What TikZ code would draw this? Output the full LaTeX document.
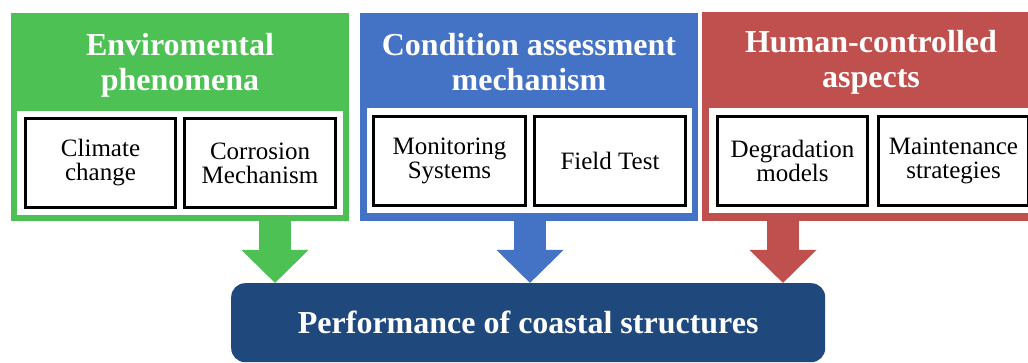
\documentclass[tikz,border=0pt]{standalone}
\usepackage{fontspec}
\setmainfont{Liberation Serif}
\usetikzlibrary{arrows.meta}
\definecolor{cgreen}{RGB}{77,193,83}
\definecolor{cblue}{RGB}{68,114,196}
\definecolor{cred}{RGB}{192,80,77}
\definecolor{cnavy}{RGB}{31,73,125}
\begin{document}
\begin{tikzpicture}[x=1pt,y=-1pt,
  outerbox/.style={fill=#1, inner sep=0pt, anchor=north west, minimum width=338pt, minimum height=208pt},
  panel/.style={fill=white, inner sep=0pt, anchor=north west, minimum width=325pt, minimum height=105pt},
  itembox/.style={draw=black, line width=2.5pt, fill=white, inner sep=0pt, minimum width=150pt, minimum height=89pt, align=center, font=\fontsize{25}{24}\selectfont},
  title/.style={text=white, align=center, font=\fontsize{32}{35}\selectfont\bfseries},
  fatarrow/.style={draw=#1, line width=32pt, -{Triangle[length=33pt,width=65pt]}}
]
\clip (0,0) rectangle (1028,363);
\fill[white] (0,0) rectangle (1028,363);

% outer coloured boxes
\node[outerbox=cgreen] (gbox) at (11,13) {};
\node[outerbox=cblue] (bbox) at (360,13) {};
\node[outerbox=cred, minimum height=209pt] (rbox) at (702,12) {};

% white panels
\node[panel, minimum width=326pt, minimum height=104pt] (gpanel) at (17,111) {};
\node[panel] (bpanel) at (367,108) {};
\node[panel, minimum width=324pt] (rpanel) at (709,108) {};

% titles
\node[title] (gtitle) at (180,65) {Enviromental\\phenomena};
\node[title] (btitle) at (529,62) {Condition assessment\\mechanism};
\node[title] (rtitle) at (871,62) {Human-controlled\\aspects};

% item boxes
\node[itembox] (climate) at (100.5,163) {Climate\\change};
\node[itembox, minimum width=151pt] (corrosion) at (260,163) {Corrosion\\Mechanism};
\node[itembox, minimum width=152pt] (monitor) at (449.5,161) {Monitoring\\Systems};
\node[itembox, minimum width=151pt] (field) at (610,161) {Field Test};
\node[itembox, minimum width=150pt] (degrad) at (792.5,161) {Degradation\\models};
\node[itembox, minimum width=150pt] (maint) at (953.5,161) {Maintenance\\strategies};

% bottom box
\node[fill=cnavy, rounded corners=14pt, inner sep=0pt, anchor=north west, minimum width=594pt, minimum height=79pt] (perf) at (231,283) {};
\node[text=white, font=\fontsize{32}{35}\selectfont\bfseries] (perftext) at (perf.center) {Performance of coastal structures};

% arrows
\coordinate (gx) at (275,0);
\coordinate (bx) at (530,0);
\coordinate (rx) at (783,0);
\draw[fatarrow=cgreen] (gx |- gbox.south) -- (gx |- perf.north);
\draw[fatarrow=cblue] (bx |- bbox.south) -- (bx |- perf.north);
\draw[fatarrow=cred] (rx |- rbox.south) -- (rx |- perf.north);
\end{tikzpicture}
\end{document}
